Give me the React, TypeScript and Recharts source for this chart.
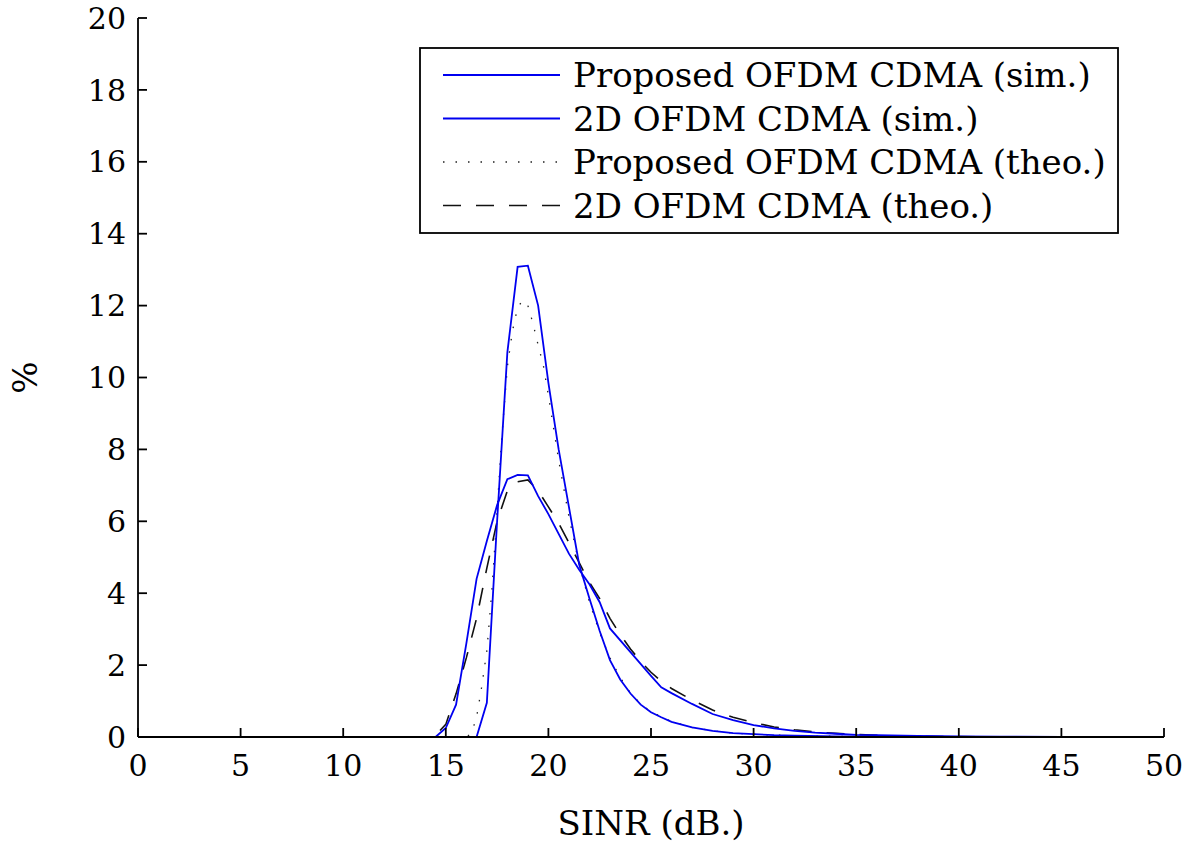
import React from 'react';
import { LineChart, Line, XAxis, YAxis, Legend } from 'recharts';

// SINR sample points (dB) and percentages for each series
const propSimX = [6.5, 16.5, 17, 17.5, 18, 18.5, 19, 19.5, 20, 20.5, 21, 21.5, 22, 22.5, 23, 23.5, 24, 24.5, 25, 25.5, 26, 27, 28, 29, 30, 31, 32, 34, 36, 40, 50];
const propSimY = [0, 0, 0.95, 6.0, 10.7, 13.08, 13.11, 12.0, 9.85, 8.0, 6.4, 4.8, 3.85, 2.95, 2.14, 1.6, 1.21, 0.9, 0.69, 0.55, 0.42, 0.27, 0.17, 0.11, 0.08, 0.05, 0.04, 0.02, 0.01, 0, 0];

const twoDSimX = [6.5, 14.5, 15, 15.5, 16, 16.5, 17, 17.5, 18, 18.5, 19, 19.5, 20, 20.5, 21, 21.5, 22, 22.5, 23, 24, 25, 25.5, 26, 27, 28, 29, 30, 31, 32, 33, 34, 35, 36, 38, 40, 42, 45, 50];
const twoDSimY = [0, 0, 0.25, 0.9, 2.6, 4.4, 5.45, 6.45, 7.17, 7.29, 7.28, 6.7, 6.2, 5.65, 5.1, 4.65, 4.25, 3.75, 3.02, 2.36, 1.7, 1.38, 1.22, 0.92, 0.64, 0.47, 0.33, 0.24, 0.17, 0.12, 0.09, 0.06, 0.05, 0.03, 0.02, 0.01, 0, 0];

const propTheoX = [10, 16, 16.25, 16.5, 16.75, 17, 17.25, 17.5, 17.75, 18, 18.25, 18.5, 18.75, 19, 19.25, 19.5, 19.75, 20, 20.5, 21, 21.5, 22, 22.5, 23, 23.5, 24, 24.5, 25, 26, 27, 28, 29, 30, 32, 35, 40, 50];
const propTheoY = [0, 0, 0.1, 0.55, 1.4, 2.4, 4.1, 6.3, 8.5, 10.3, 11.3, 11.95, 12.15, 12.0, 11.5, 10.9, 10.35, 9.5, 7.7, 6.13, 4.8, 3.75, 2.9, 2.2, 1.65, 1.22, 0.92, 0.7, 0.43, 0.27, 0.17, 0.11, 0.075, 0.035, 0.01, 0, 0];

const twoDTheoX = [10, 14, 14.5, 15, 15.5, 16, 16.5, 17, 17.5, 18, 18.5, 19, 19.5, 20, 20.5, 21, 21.5, 22, 22.5, 23, 23.5, 24, 24.5, 25, 25.5, 26, 27, 28, 29, 30, 31, 32, 33, 34, 35, 37, 40, 45, 50];
const twoDTheoY = [0, 0, 0.05, 0.35, 1.2, 2.2, 3.3, 4.7, 6.0, 6.85, 7.1, 7.15, 6.85, 6.4, 5.95, 5.4, 4.85, 4.3, 3.85, 3.3, 2.85, 2.45, 2.1, 1.8, 1.55, 1.35, 1.03, 0.75, 0.55, 0.4, 0.28, 0.2, 0.14, 0.1, 0.07, 0.03, 0.01, 0, 0];

const xTicks = [0, 5, 10, 15, 20, 25, 30, 35, 40, 45, 50];
const yTicks = [0, 2, 4, 6, 8, 10, 12, 14, 16, 18, 20];

const seriesNames = [
  'Proposed OFDM CDMA (sim.)',
  '2D OFDM CDMA (sim.)',
  'Proposed OFDM CDMA (theo.)',
  '2D OFDM CDMA (theo.)',
];

const zip = (xs: number[], ys: number[]) => xs.map((x, i) => ({ x, y: ys[i] }));
const propSim = zip(propSimX, propSimY);
const twoDSim = zip(twoDSimX, twoDSimY);
const propTheo = zip(propTheoX, propTheoY);
const twoDTheo = zip(twoDTheoX, twoDTheoY);

const FONT = 'DejaVu Serif';
const BLUE = '#0000f0';

const legendStyles = [
  { stroke: BLUE, dash: undefined as string | undefined, width: 1.8 },
  { stroke: BLUE, dash: undefined as string | undefined, width: 1.8 },
  { stroke: '#222', dash: '1.5 11', width: 1.3 },
  { stroke: '#111', dash: '18 15', width: 1.6 },
];

const renderLegend = () => (
  <svg width={700} height={187} style={{ display: 'block' }}>
    <rect x={1} y={1} width={698} height={185} fill="#fff" stroke="#000" strokeWidth={1.8} />
    {seriesNames.map((name, i) => {
      const cy = 28 + i * 43.5;
      const s = legendStyles[i];
      return (
        <g key={name}>
          <line x1={24} x2={141} y1={cy} y2={cy} stroke={s.stroke} strokeWidth={s.width} strokeDasharray={s.dash} />
          <text x={154} y={cy + 12} style={{ fontFamily: FONT, fontSize: 34 }} fill="#000">
            {name}
          </text>
        </g>
      );
    })}
  </svg>
);

const YLabel = (props: any) => {
  const vb = props.viewBox || { x: 0, y: 18, width: 138, height: 719 };
  const cx = vb.x + 25;
  const cy = vb.y + vb.height / 2;
  return (
    <text
      transform={`translate(${cx},${cy}) rotate(-90)`}
      textAnchor="middle"
      dominantBaseline="central"
      style={{ fontFamily: FONT, fontSize: 34 }}
      fill="#000"
    >
      %
    </text>
  );
};

export default function App() {
  const axisLine = { stroke: '#000', strokeWidth: 1.8 };
  const tickLine = { stroke: '#000', strokeWidth: 1.8 };
  const tickStyle = { fontFamily: FONT, fontSize: 30, fill: '#000' };
  return (
    <div style={{ position: 'absolute', left: 0, top: 0, width: 1200, height: 858, background: '#fff' }}>
      <LineChart width={1200} height={858} margin={{ top: 18, right: 36, bottom: 0, left: 0 }}>
        <XAxis
          type="number"
          dataKey="x"
          domain={[0, 50]}
          ticks={xTicks}
          height={121}
          axisLine={axisLine}
          tickLine={tickLine}
          tickSize={-9}
          tickMargin={27}
          tick={tickStyle}
          interval={0}
          allowDataOverflow
          label={{ value: 'SINR (dB.)', position: 'insideBottom', offset: 23, style: { fontFamily: FONT, fontSize: 34, fill: '#000' } }}
        />
        <XAxis
          xAxisId="top"
          orientation="top"
          type="number"
          dataKey="x"
          domain={[0, 50]}
          ticks={xTicks}
          height={0}
          axisLine={axisLine}
          tickLine={tickLine}
          tickSize={-9}
          tick={false}
          interval={0}
          allowDataOverflow
        />
        <YAxis
          type="number"
          domain={[0, 20]}
          ticks={yTicks}
          width={138}
          axisLine={axisLine}
          tickLine={tickLine}
          tickSize={-9}
          tickMargin={21}
          tick={tickStyle}
          interval={0}
          allowDataOverflow
          label={<YLabel />}
        />
        <YAxis
          yAxisId="right"
          orientation="right"
          type="number"
          domain={[0, 20]}
          ticks={yTicks}
          width={0}
          axisLine={axisLine}
          tickLine={tickLine}
          tickSize={-9}
          tick={false}
          interval={0}
          allowDataOverflow
        />
        <Legend
          layout="horizontal"
          verticalAlign="middle"
          align="center"
          content={renderLegend}
          wrapperStyle={{ position: 'absolute', left: 419, top: 47, width: 700, height: 187 }}
        />
        <Line data={twoDTheo} dataKey="y" name={seriesNames[3]} type="linear" stroke="#111" strokeWidth={1.6} strokeDasharray="18 15" dot={false} isAnimationActive={false} />
        <Line data={propTheo} dataKey="y" name={seriesNames[2]} type="linear" stroke="#222" strokeWidth={1.3} strokeDasharray="1.5 11" dot={false} isAnimationActive={false} />
        <Line data={twoDSim} dataKey="y" name={seriesNames[1]} type="linear" stroke={BLUE} strokeWidth={1.8} dot={false} isAnimationActive={false} />
        <Line data={propSim} dataKey="y" name={seriesNames[0]} type="linear" stroke={BLUE} strokeWidth={1.8} dot={false} isAnimationActive={false} />
      </LineChart>
    </div>
  );
}
